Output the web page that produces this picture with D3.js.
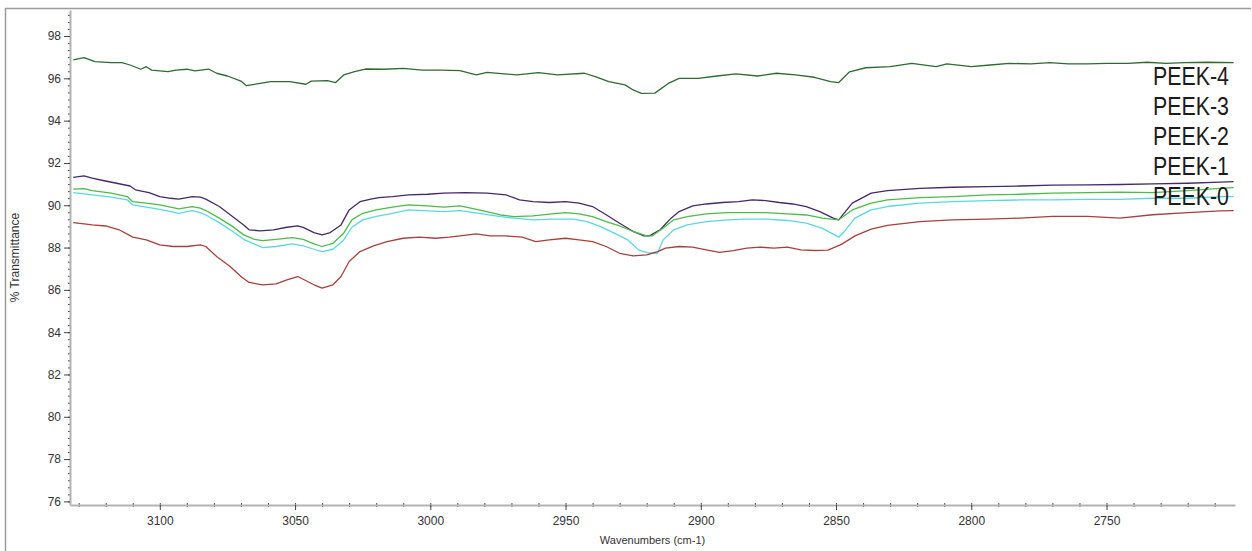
<!DOCTYPE html>
<html>
<head>
<meta charset="utf-8">
<script src="https://cdn.jsdelivr.net/npm/d3@7"></script>
<style>
	html, body { margin: 0; padding: 0; background: #fff; }
	svg { display: block; font-family: "Liberation Sans", Arial, sans-serif; }
</style>
</head>
<body>
<svg width="1252" height="551"></svg>
<script>
(function() {
	"use strict"

	// spectra: [wavenumber (cm-1), % transmittance]
	var peek4 = [[3132,96.87],[3128,96.98],[3124,96.79],[3118,96.74],[3114,96.74],[3111,96.63],[3107,96.43],[3105,96.55],[3103,96.39],[3097,96.32],[3094,96.39],[3090,96.43],[3087,96.35],[3082,96.44],[3079,96.24],[3075,96.11],[3070,95.87],[3068,95.65],[3063,95.76],[3059,95.84],[3052,95.84],[3046,95.72],[3044,95.87],[3038,95.89],[3035,95.80],[3032,96.16],[3028,96.32],[3024,96.44],[3017,96.43],[3010,96.47],[3003,96.39],[2996,96.39],[2989,96.36],[2983,96.16],[2979,96.28],[2968,96.16],[2960,96.27],[2953,96.16],[2943,96.24],[2939,96.08],[2934,95.84],[2928,95.69],[2925,95.45],[2922,95.29],[2917,95.30],[2912,95.76],[2908,96.00],[2901,96.00],[2894,96.11],[2887,96.21],[2879,96.11],[2872,96.24],[2865,96.16],[2858,96.05],[2852,95.84],[2849,95.80],[2845,96.31],[2839,96.50],[2830,96.55],[2822,96.71],[2813,96.55],[2809,96.68],[2800,96.55],[2793,96.63],[2786,96.71],[2778,96.68],[2771,96.74],[2764,96.68],[2757,96.68],[2750,96.71],[2742,96.71],[2735,96.76],[2728,96.71],[2721,96.74],[2713,96.76],[2703,96.74]],
		peek3 = [[3132,91.32],[3128,91.39],[3125,91.28],[3121,91.17],[3116,91.04],[3111,90.91],[3109,90.73],[3104,90.60],[3100,90.41],[3096,90.33],[3093,90.29],[3088,90.41],[3085,90.38],[3083,90.29],[3078,89.94],[3073,89.46],[3069,89.07],[3067,88.84],[3063,88.79],[3058,88.84],[3053,88.96],[3049,89.03],[3047,88.95],[3043,88.71],[3040,88.60],[3037,88.71],[3033,89.07],[3030,89.78],[3026,90.17],[3022,90.29],[3019,90.36],[3014,90.41],[3008,90.49],[3001,90.52],[2995,90.57],[2987,90.60],[2979,90.57],[2972,90.49],[2967,90.25],[2962,90.17],[2956,90.13],[2950,90.17],[2945,90.10],[2940,89.94],[2935,89.55],[2930,89.15],[2925,88.76],[2921,88.55],[2919,88.55],[2915,88.84],[2911,89.39],[2908,89.70],[2903,89.97],[2898,90.06],[2892,90.13],[2886,90.17],[2881,90.25],[2876,90.22],[2871,90.13],[2866,90.06],[2861,89.94],[2856,89.70],[2851,89.39],[2849,89.31],[2844,90.10],[2837,90.57],[2831,90.69],[2819,90.80],[2807,90.85],[2794,90.88],[2782,90.91],[2770,90.95],[2757,90.96],[2745,90.98],[2733,91.01],[2720,91.04],[2708,91.09],[2703,91.12]],
		peek2 = [[3132,90.76],[3128,90.79],[3125,90.69],[3118,90.57],[3112,90.41],[3110,90.17],[3105,90.10],[3100,90.02],[3096,89.91],[3093,89.83],[3088,89.94],[3085,89.86],[3083,89.75],[3078,89.39],[3073,88.99],[3069,88.60],[3065,88.39],[3062,88.33],[3057,88.39],[3051,88.47],[3047,88.39],[3043,88.17],[3040,88.05],[3036,88.20],[3032,88.68],[3029,89.31],[3025,89.62],[3020,89.78],[3014,89.91],[3008,90.02],[3001,89.97],[2995,89.91],[2989,89.97],[2982,89.78],[2974,89.54],[2969,89.46],[2962,89.50],[2955,89.59],[2950,89.65],[2945,89.59],[2940,89.46],[2935,89.23],[2930,89.02],[2925,88.76],[2920,88.55],[2918,88.55],[2914,88.91],[2910,89.31],[2905,89.46],[2898,89.59],[2890,89.65],[2883,89.65],[2876,89.65],[2868,89.59],[2861,89.54],[2855,89.39],[2849,89.31],[2844,89.78],[2837,90.10],[2831,90.25],[2819,90.36],[2807,90.41],[2794,90.49],[2782,90.52],[2770,90.57],[2757,90.60],[2745,90.62],[2733,90.60],[2720,90.69],[2708,90.80],[2703,90.83]],
		peek1 = [[3132,90.60],[3128,90.54],[3125,90.49],[3118,90.38],[3112,90.25],[3110,90.02],[3105,89.91],[3100,89.81],[3096,89.70],[3093,89.62],[3088,89.75],[3085,89.65],[3083,89.54],[3078,89.18],[3073,88.76],[3069,88.39],[3065,88.16],[3062,88.00],[3057,88.05],[3051,88.17],[3047,88.08],[3043,87.92],[3040,87.81],[3036,87.92],[3032,88.36],[3029,88.96],[3025,89.31],[3020,89.47],[3014,89.62],[3008,89.78],[3001,89.73],[2995,89.70],[2989,89.75],[2982,89.62],[2974,89.46],[2969,89.39],[2962,89.31],[2955,89.34],[2947,89.34],[2942,89.23],[2937,88.99],[2932,88.68],[2927,88.36],[2923,87.89],[2920,87.76],[2916,87.72],[2914,88.35],[2910,88.84],[2905,89.07],[2898,89.23],[2890,89.31],[2883,89.34],[2876,89.34],[2868,89.28],[2861,89.15],[2855,88.91],[2849,88.49],[2847,88.75],[2843,89.39],[2837,89.78],[2831,89.94],[2819,90.10],[2807,90.17],[2794,90.22],[2782,90.25],[2770,90.25],[2757,90.28],[2745,90.28],[2733,90.33],[2720,90.33],[2708,90.41],[2703,90.41]],
		peek0 = [[3132,89.18],[3128,89.12],[3125,89.07],[3120,89.02],[3115,88.84],[3110,88.49],[3105,88.36],[3100,88.13],[3095,88.05],[3090,88.05],[3085,88.13],[3083,88.05],[3079,87.58],[3074,87.10],[3070,86.63],[3067,86.35],[3062,86.24],[3057,86.28],[3053,86.47],[3049,86.63],[3047,86.50],[3043,86.24],[3040,86.08],[3036,86.24],[3033,86.63],[3030,87.34],[3026,87.81],[3021,88.08],[3016,88.28],[3010,88.44],[3004,88.49],[2998,88.44],[2993,88.49],[2989,88.55],[2983,88.65],[2978,88.55],[2972,88.55],[2966,88.49],[2961,88.28],[2956,88.36],[2950,88.44],[2945,88.36],[2940,88.28],[2935,88.05],[2930,87.73],[2925,87.61],[2920,87.65],[2916,87.81],[2913,87.97],[2908,88.05],[2903,88.02],[2898,87.89],[2893,87.77],[2888,87.86],[2883,87.97],[2878,88.02],[2873,87.97],[2868,88.02],[2863,87.89],[2858,87.86],[2853,87.88],[2848,88.15],[2843,88.55],[2837,88.87],[2831,89.05],[2819,89.23],[2807,89.31],[2794,89.34],[2782,89.39],[2770,89.47],[2757,89.47],[2745,89.39],[2733,89.55],[2720,89.65],[2708,89.73],[2703,89.75]],
		seriesNames = ["PEEK-4", "PEEK-3", "PEEK-2", "PEEK-1", "PEEK-0"],
		seriesColors = ["#2f6a32", "#45296a", "#4cbc48", "#5ad8e2", "#a8403c"],
		xTicks = [3100, 3050, 3000, 2950, 2900, 2850, 2800, 2750],
		yTicks = [76, 78, 80, 82, 84, 86, 88, 90, 92, 94, 96, 98];

	var series = [peek4, peek3, peek2, peek1, peek0],
		svg = d3.select("svg"),
		left = 70, right = 1235, top = 10, bottom = 505,
		x = d3.scaleLinear().domain([3133.2, 2702.5]).range([left, right]),
		y = d3.scaleLinear().domain([75.83, 99.23]).range([bottom, top]),
		axisGray = "#b3b3b3",
		labelColor = "#333";

	// window frame
	svg.append("path")
		.attr("d", "M5.5,551V8.5H1251")
		.attr("fill", "none")
		.attr("stroke", "#9a9a9a")
		.attr("stroke-width", 1.5);

	// minor ticks, drawn across the axis lines
	var xMinor = d3.range(2710, 3131, 10),
		yMinor = d3.range(0, 70).map(function(i) { return 76 + i / 3; }).filter(function(v) { return v <= 99.2; });

	svg.append("g")
		.attr("transform", "translate(0," + bottom + ")")
		.call(d3.axisBottom(x).tickValues(xMinor).tickSize(2).tickSizeOuter(0).tickFormat(""))
		.call(function(g) { g.select(".domain").remove(); });
	svg.append("g")
		.attr("transform", "translate(0," + bottom + ")")
		.call(d3.axisTop(x).tickValues(xMinor).tickSize(2).tickSizeOuter(0).tickFormat(""))
		.call(function(g) { g.select(".domain").remove(); });
	svg.append("g")
		.attr("transform", "translate(" + left + ",0)")
		.call(d3.axisLeft(y).tickValues(yMinor).tickSize(2).tickSizeOuter(0).tickFormat(""))
		.call(function(g) { g.select(".domain").remove(); });

	var xAxis = svg.append("g")
		.attr("transform", "translate(0," + bottom + ")")
		.call(d3.axisBottom(x).tickValues(xTicks).tickSize(5).tickSizeOuter(0).tickPadding(6).tickFormat(d3.format("d")));

	var yAxis = svg.append("g")
		.attr("transform", "translate(" + left + ",0)")
		.call(d3.axisLeft(y).tickValues(yTicks).tickSize(6).tickSizeOuter(0).tickPadding(3).tickFormat(d3.format("d")));

	[xAxis, yAxis].forEach(function(g) {
		g.select(".domain").attr("stroke", axisGray).attr("stroke-width", 2);
		g.selectAll(".tick text")
			.attr("fill", labelColor)
			.style("font-size", "12px")
			.style("font-family", "'Liberation Sans', Arial, sans-serif");
	});
	svg.selectAll(".tick line").attr("stroke", "#444");

	// axis titles
	svg.append("text")
		.attr("x", (left + right) / 2)
		.attr("y", 544)
		.attr("text-anchor", "middle")
		.attr("fill", labelColor)
		.style("font-size", "11px")
		.text("Wavenumbers (cm-1)");

	svg.append("text")
		.attr("transform", "translate(19," + (top + bottom) / 2 + ") rotate(-90)")
		.attr("text-anchor", "middle")
		.attr("fill", labelColor)
		.style("font-size", "12px")
		.text("% Transmittance");

	// spectra
	var line = d3.line()
		.x(function(d) { return x(d[0]); })
		.y(function(d) { return y(d[1]); });

	svg.append("g")
		.selectAll("path")
		.data(series)
		.enter()
		.append("path")
			.attr("d", line)
			.attr("fill", "none")
			.attr("stroke", function(d, i) { return seriesColors[i]; })
			.attr("stroke-width", 1.3)
			.attr("stroke-linejoin", "round");

	// legend labels
	svg.append("g")
		.selectAll("text")
		.data(seriesNames)
		.enter()
		.append("text")
			.attr("x", 1229)
			.attr("y", function(d, i) { return 85 + i * 30; })
			.attr("text-anchor", "end")
			.attr("fill", "#1c1c1c")
			.attr("textLength", 76)
			.attr("lengthAdjust", "spacingAndGlyphs")
			.style("font-size", "25px")
			.text(function(d) { return d; });
})();
</script>
</body>
</html>
